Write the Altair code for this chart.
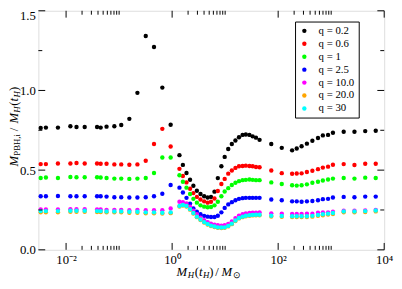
import altair as alt
import pandas as pd

# log10 of M_H(t_H)/M_sun for each sampled point (shared grid)
log_mass = [
    -2.479, -2.381, -2.154, -1.919, -1.804, -1.649, -1.416, -1.348, -1.237, -1.090,
    -0.960, -0.807, -0.655, -0.498, -0.342, -0.185, -0.028,
    0.138, 0.203, 0.271, 0.338, 0.401, 0.467, 0.535, 0.604, 0.670, 0.733,
    0.799, 0.862, 0.929, 0.991, 1.058, 1.126, 1.194, 1.261, 1.329, 1.390,
    1.458, 1.519, 1.582, 1.649,
    1.870, 2.068, 2.263, 2.350, 2.442, 2.542, 2.645, 2.751, 2.843, 2.941,
    3.033, 3.236, 3.439, 3.642, 3.840,
]

q02 = [
    0.765, 0.767, 0.767, 0.775, 0.771, 0.771, 0.771, 0.767, 0.773, 0.775,
    0.783, 0.822, 0.985, 1.342, 1.273, 1.018, 0.785,
    0.594, 0.533, 0.482, 0.440, 0.402, 0.371, 0.350, 0.336, 0.328, 0.332,
    0.365, 0.450, 0.524, 0.583, 0.633, 0.664, 0.686, 0.706, 0.721, 0.724,
    0.721, 0.712, 0.704, 0.690,
    0.664, 0.640, 0.624, 0.636, 0.650, 0.666, 0.684, 0.702, 0.718, 0.721,
    0.735, 0.741, 0.741, 0.745, 0.747,
]
q06 = [
    0.538, 0.538, 0.542, 0.542, 0.545, 0.542, 0.542, 0.540, 0.540, 0.536,
    0.536, 0.534, 0.536, 0.559, 0.664, 0.759, 0.648,
    0.508, 0.463, 0.423, 0.383, 0.356, 0.332, 0.316, 0.304, 0.296, 0.302,
    0.322, 0.369, 0.413, 0.445, 0.478, 0.498, 0.514, 0.524, 0.526, 0.528,
    0.526, 0.524, 0.520, 0.518,
    0.498, 0.481, 0.477, 0.479, 0.480, 0.488, 0.496, 0.506, 0.516, 0.522,
    0.534, 0.538, 0.532, 0.540, 0.540,
]
q1 = [
    0.451, 0.454, 0.451, 0.457, 0.455, 0.455, 0.455, 0.454, 0.451, 0.447,
    0.447, 0.445, 0.447, 0.451, 0.482, 0.579, 0.579,
    0.468, 0.427, 0.390, 0.350, 0.320, 0.296, 0.279, 0.271, 0.267, 0.269,
    0.279, 0.302, 0.336, 0.366, 0.387, 0.407, 0.421, 0.431, 0.437, 0.439,
    0.441, 0.439, 0.437, 0.437,
    0.423, 0.413, 0.405, 0.403, 0.405, 0.411, 0.421, 0.427, 0.435, 0.441,
    0.447, 0.451, 0.447, 0.453, 0.451,
]
q25 = [
    0.336, 0.336, 0.338, 0.336, 0.336, 0.336, 0.336, 0.336, 0.334, 0.330,
    0.330, 0.328, 0.328, 0.330, 0.336, 0.352, 0.407,
    0.390, 0.360, 0.326, 0.290, 0.259, 0.239, 0.223, 0.213, 0.208, 0.206,
    0.206, 0.214, 0.235, 0.263, 0.285, 0.299, 0.311, 0.320, 0.324, 0.326,
    0.326, 0.326, 0.326, 0.326,
    0.316, 0.311, 0.304, 0.304, 0.302, 0.304, 0.306, 0.311, 0.318, 0.320,
    0.328, 0.332, 0.330, 0.334, 0.334,
]
q10 = [
    0.253, 0.253, 0.253, 0.255, 0.255, 0.255, 0.253, 0.253, 0.251, 0.251,
    0.251, 0.249, 0.251, 0.249, 0.249, 0.249, 0.259,
    0.302, 0.299, 0.291, 0.271, 0.245, 0.223, 0.202, 0.186, 0.174, 0.164,
    0.158, 0.154, 0.152, 0.154, 0.162, 0.178, 0.199, 0.214, 0.223, 0.229,
    0.231, 0.233, 0.233, 0.235,
    0.229, 0.227, 0.225, 0.225, 0.225, 0.227, 0.227, 0.233, 0.235, 0.235,
    0.239, 0.245, 0.245, 0.247, 0.251,
]
q20 = [
    0.236, 0.236, 0.236, 0.239, 0.239, 0.239, 0.237, 0.237, 0.235, 0.235,
    0.235, 0.233, 0.233, 0.229, 0.229, 0.228, 0.230,
    0.272, 0.278, 0.272, 0.252, 0.228, 0.205, 0.187, 0.171, 0.159, 0.149,
    0.143, 0.138, 0.137, 0.138, 0.147, 0.161, 0.181, 0.197, 0.205, 0.211,
    0.214, 0.216, 0.217, 0.217,
    0.209, 0.207, 0.206, 0.206, 0.206, 0.206, 0.208, 0.213, 0.217, 0.221,
    0.225, 0.235, 0.235, 0.237, 0.241,
]
q30 = [
    0.243, 0.243, 0.243, 0.245, 0.245, 0.245, 0.243, 0.243, 0.241, 0.241,
    0.241, 0.239, 0.239, 0.235, 0.235, 0.233, 0.235,
    0.275, 0.281, 0.275, 0.255, 0.231, 0.208, 0.190, 0.174, 0.162, 0.152,
    0.146, 0.141, 0.140, 0.141, 0.150, 0.164, 0.184, 0.200, 0.208, 0.214,
    0.217, 0.219, 0.220, 0.220,
    0.214, 0.212, 0.211, 0.211, 0.211, 0.211, 0.213, 0.219, 0.223, 0.227,
    0.231, 0.241, 0.241, 0.243, 0.247,
]

labels = ["q = 0.2", "q = 0.6", "q = 1", "q = 2.5", "q = 10.0", "q = 20.0", "q = 30"]
colors = ["#000000", "#ff0000", "#00ff00", "#0000ff", "#ff00ff", "#ffa500", "#00ffff"]
series = [q02, q06, q1, q25, q10, q20, q30]

x_major = [0.01, 1, 100, 10000]
x_major_labels = ["10\u207b\u00b2", "10\u2070", "10\u00b2", "10\u2074"]
x_minor = [0.02, 0.03, 0.04, 0.05, 0.06, 0.07, 0.08, 0.09, 0.1,
           2, 3, 4, 5, 6, 7, 8, 9, 10,
           200, 300, 400, 500, 600, 700, 800, 900, 1000]
y_major = [0.0, 0.5, 1.0, 1.5]
y_minor = [0.25, 0.75, 1.25]

rows = []
for i, (lab, vals) in enumerate(zip(labels, series)):
    for lm, v in zip(log_mass, vals):
        rows.append({"mass": 10 ** lm, "ratio": v, "q": lab, "k": i})
df = pd.DataFrame(rows)

W, H = 353, 244
FONT = "Liberation Serif"

label_expr = " : ".join(
    f"datum.value == {v} ? '{t}'" for v, t in zip(x_major, x_major_labels)
) + " : ''"

xscale = alt.Scale(type="log", domain=[0.003, 10000])
yscale = alt.Scale(domain=[0, 1.5])
x_axis = alt.Axis(values=x_major, labelExpr=label_expr, tickSize=0,
                  domain=False, grid=False, title=None, labelFont=FONT,
                  labelFontSize=13, labelPadding=4, labelFlush=False,
                  labelOverlap=False, labelColor="black")
y_axis = alt.Axis(values=y_major, format=".1f", tickSize=0, domain=False,
                  grid=False, title=None, labelFont=FONT, labelFontSize=13,
                  labelPadding=3, labelColor="black", labelFlush=False,
                  labelOverlap=False,
                  labelOffset={"condition": {"test": "datum.value == 1.5", "value": 4.5},
                               "value": 0})

points = alt.Chart(df).mark_circle(size=20, opacity=1).encode(
    x=alt.X("mass:Q", scale=xscale, axis=x_axis),
    y=alt.Y("ratio:Q", scale=yscale, axis=y_axis),
    color=alt.Color("q:N", scale=alt.Scale(domain=labels, range=colors),
                    legend=alt.Legend(title=None, orient="none", legendX=262, legendY=11,
                                      strokeColor="black", fillColor="white", padding=4,
                                      symbolType="circle", symbolSize=20,
                                      symbolStrokeWidth=0,
                                      labelFont=FONT, labelFontSize=11, labelOffset=9,
                                      rowPadding=1.2, labelColor="black")),
    order=alt.Order("k:Q"),
)

xt_major = pd.DataFrame({"mass": x_major})
xt_minor = pd.DataFrame({"mass": x_minor})
yt_major = pd.DataFrame({"ratio": y_major})
yt_minor = pd.DataFrame({"ratio": y_minor})


def xticks(data, length):
    bottom = alt.Chart(data).mark_rule(color="black", strokeWidth=1).encode(
        x=alt.X("mass:Q", scale=xscale, axis=x_axis),
        y=alt.value(H), y2=alt.value(H - length))
    top = alt.Chart(data).mark_rule(color="black", strokeWidth=1).encode(
        x=alt.X("mass:Q", scale=xscale, axis=x_axis),
        y=alt.value(0), y2=alt.value(length))
    return [bottom, top]


def yticks(data, length):
    left = alt.Chart(data).mark_rule(color="black", strokeWidth=1).encode(
        y=alt.Y("ratio:Q", scale=yscale, axis=y_axis),
        x=alt.value(0), x2=alt.value(length))
    right = alt.Chart(data).mark_rule(color="black", strokeWidth=1).encode(
        y=alt.Y("ratio:Q", scale=yscale, axis=y_axis),
        x=alt.value(W - length), x2=alt.value(W))
    return [left, right]


def txt(s, x, y, size, angle=0, italic=True):
    kw = dict(text=s, align="left", baseline="alphabetic", font=FONT,
              fontSize=size, color="black")
    if italic:
        kw["fontStyle"] = "italic"
    if angle:
        kw["angle"] = angle
    return alt.Chart(xt_major).mark_text(**kw).encode(
        x=alt.value(x), y=alt.value(y)).transform_filter("datum.mass == 1")


# axis titles (page coords -> plot coords: x-39, y-8)
OX, OY = 39, 8
xb, xs = 278.5 - OY, 280.5 - OY
x_title = [
    txt("M", 180 - OX, xb, 13),
    txt("H", 191.5 - OX, xs, 9),
    txt("(", 198.5 - OX, xb, 13, italic=False),
    txt("t", 203 - OX, xb, 13),
    txt("H", 207 - OX, xs, 9),
    txt(")", 213.5 - OX, xb, 13, italic=False),
    txt("/", 219.5 - OX, xb, 13, italic=False),
    txt("M", 226 - OX, xb, 13),
    txt("\u2299", 238 - OX, xs, 9, italic=False),
]
yb, ys = 18 - OX, 20.5 - OX
y_title = [
    txt("M", yb, 167 - OY, 13, angle=270),
    txt("PBH,i", ys, 156 - OY, 9, angle=270, italic=False),
    txt("/", yb, 131 - OY, 13, angle=270, italic=False),
    txt("M", yb, 123 - OY, 13, angle=270),
    txt("H", ys, 112 - OY, 9, angle=270),
    txt("(", yb, 105 - OY, 13, angle=270, italic=False),
    txt("t", yb, 100.5 - OY, 13, angle=270),
    txt("H", ys, 96.5 - OY, 9, angle=270),
    txt(")", yb, 90 - OY, 13, angle=270, italic=False),
]

layers = ([points] + xticks(xt_major, 7) + xticks(xt_minor, 4) + yticks(yt_major, 7)
          + yticks(yt_minor, 4) + x_title + y_title)

chart = alt.layer(*layers).properties(
    width=W, height=H,
    autosize=alt.AutoSizeParams(type="none"),
    padding={"left": 31, "top": 0, "right": 10, "bottom": 29},
).configure_view(stroke="black", strokeWidth=1).configure(background="white")

chart.save("out.html", embed_options={"renderer": "svg", "actions": False})
